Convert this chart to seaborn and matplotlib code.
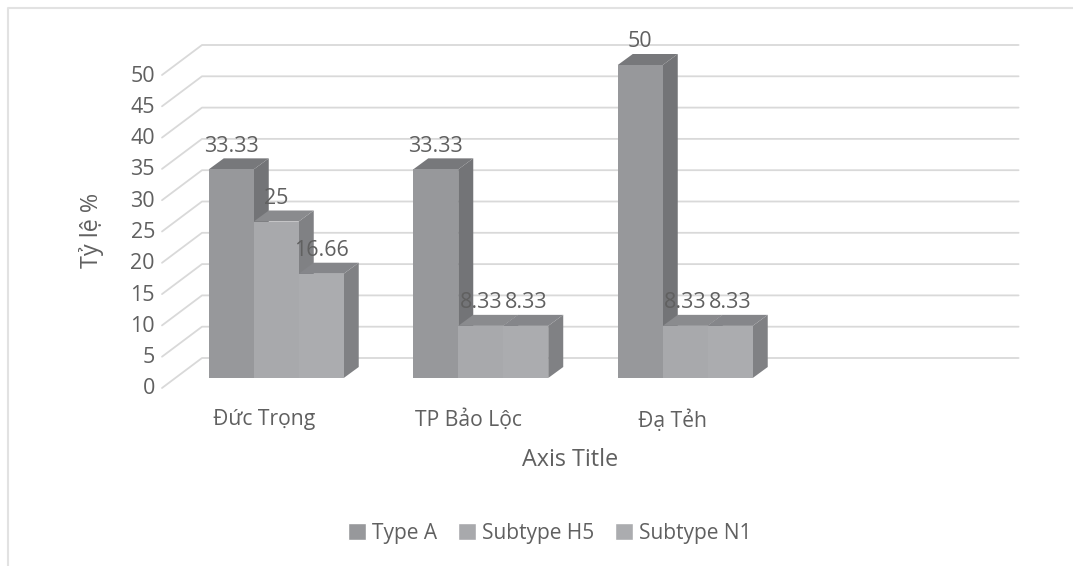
import pandas as pd
import matplotlib
matplotlib.use("Agg")
import matplotlib.pyplot as plt
import seaborn as sns
from matplotlib.lines import Line2D
from matplotlib.patches import Polygon
from matplotlib.transforms import ScaledTranslation

# Values
regions = ["Đức Trọng", "TP Bảo Lộc", "Đạ Tẻh"]
series_names = ["Type A", "Subtype H5", "Subtype N1"]
type_a = [33.33, 33.33, 50]
subtype_h5 = [25, 8.33, 8.33]
subtype_n1 = [16.66, 8.33, 8.33]
y_ticks = list(range(0, 55, 5))

df = pd.DataFrame({"region": regions, "Type A": type_a, "Subtype H5": subtype_h5, "Subtype N1": subtype_n1})
df_long = df.melt(id_vars="region", var_name="series", value_name="value")

front_colors = ["#97989b", "#a8a9ac", "#abacaf"]
top_colors = ["#77787b", "#8a8b8e", "#85868a"]
side_colors = ["#737477", "#808184", "#808184"]
text_color = "#606060"
grid_color = "#d9d9d9"

W, H = 1073, 566
sns.set_theme(style="white")
plt.rcParams["font.family"] = ["Open Sans", "DejaVu Sans"]

fig = plt.figure(figsize=(W / 100, H / 100), dpi=100)
# axes sit on the plane of the bar fronts
ax = fig.add_axes([174 / W, 1 - 378 / H, 818 / W, 313 / H])

sns.barplot(data=df_long, x="region", y="value", hue="series", order=regions,
            hue_order=series_names, palette=front_colors, width=0.66, gap=0,
            saturation=1, ax=ax, legend=True)
ax.set_xlim(-0.5, 3.5)
ax.set_ylim(0, 50)
sns.despine(ax=ax, left=True, bottom=True)

# pixel to data scale, for the fake depth
sx = 4 / 818
sy = 50 / 313

# back wall and side wall gridlines
for v in y_ticks:
    ax.plot([-0.5 - 12 * sx, -0.5 + 28 * sx, 3.63],
            [v - 10 * sy, v + 20 * sy, v + 20 * sy],
            color=grid_color, lw=1.3, clip_on=False, zorder=1)

# depth faces of the bars
depth_x = 15 * sx
depth_y = 11 * sy
for j, container in enumerate(ax.containers):
    for bar in container:
        x0 = bar.get_x()
        x1 = x0 + bar.get_width()
        h = bar.get_height()
        ax.add_patch(Polygon([(x1, 0), (x1 + depth_x, depth_y), (x1 + depth_x, h + depth_y), (x1, h)],
                             color=side_colors[j], lw=0, clip_on=False, zorder=3 + j))
        ax.add_patch(Polygon([(x0, h), (x0 + depth_x, h + depth_y), (x1 + depth_x, h + depth_y), (x1, h)],
                             color=top_colors[j], lw=0, clip_on=False, zorder=3 + j))
        bar.set_zorder(3.5 + j)
        bar.set_linewidth(0)
        ax.annotate(f"{h:g}", (x0 + bar.get_width() / 2, h), xytext=(0, 16.8),
                    textcoords="offset points", ha="center", va="center",
                    fontsize=15.5, color=text_color, zorder=10, annotation_clip=False)

# tick labels
ax.set_yticks(y_ticks)
ax.set_xticks(range(len(regions)))
ax.set_xticklabels(regions)
ax.tick_params(axis="y", length=0, pad=13.7, labelsize=15.5, labelcolor=text_color)
ax.tick_params(axis="x", length=0, pad=22.5, labelsize=15.2, labelcolor=text_color)
for lab in ax.get_yticklabels():
    lab.set_transform(lab.get_transform() + ScaledTranslation(0, -8.5 / 100, fig.dpi_scale_trans))
for lab in ax.get_xticklabels():
    lab.set_transform(lab.get_transform() + ScaledTranslation(-12.5 / 100, 0, fig.dpi_scale_trans))

ax.set_xlabel("Axis Title", fontsize=16.8, color=text_color, va="center")
ax.xaxis.set_label_coords((570 - 174) / 818, (378 - 460) / 313)
ax.set_ylabel("Tỷ lệ %", fontsize=16.8, color=text_color, va="center")
ax.yaxis.set_label_coords((92 - 174) / 818, (378 - 230) / 313)

# legend at the bottom
sns.move_legend(ax, "center", bbox_to_anchor=((550 - 174) / 818, (378 - 533) / 313),
                ncol=3, frameon=False, title=None, fontsize=15, handlelength=0.85,
                handleheight=0.85, handletextpad=0.3, columnspacing=1.0,
                labelcolor=text_color)

# chart frame, only top and left show
fig.add_artist(Line2D([8 / W, 8 / W, 1], [0, 1 - 8 / H, 1 - 8 / H], color="#e2e2e2", lw=1.5))

fig.savefig("out.png", dpi=100)
